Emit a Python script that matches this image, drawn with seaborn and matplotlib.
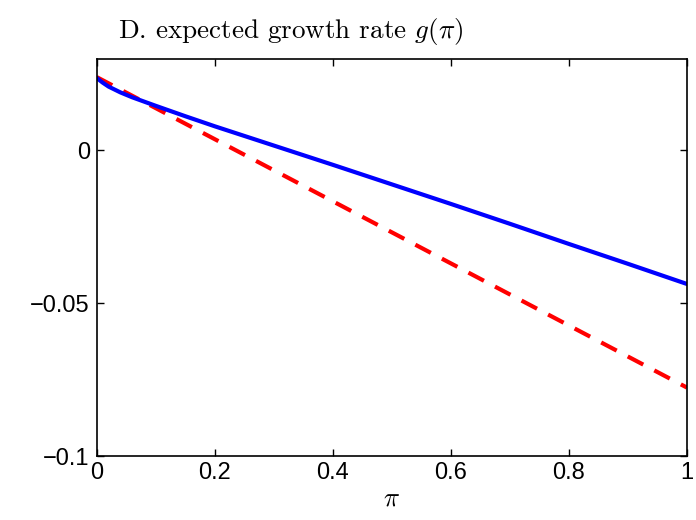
import numpy as np
import pandas as pd
import seaborn as sns
import matplotlib.pyplot as plt

# values
pi_blue = [0, 0.01, 0.02, 0.04, 0.06, 0.08, 0.1, 0.15, 0.2, 0.3, 0.4, 0.5, 0.6, 0.7, 0.8, 0.9, 1.0]
g_blue = [0.0237, 0.0222, 0.0209, 0.0190, 0.0174, 0.0160, 0.0146, 0.0112, 0.0079, 0.0016,
          -0.0047, -0.0111, -0.0175, -0.0240, -0.0306, -0.0371, -0.0437]
pi_red = [0, 1.0]
g_red = [0.0240, -0.0776]

xticks = [0, 0.2, 0.4, 0.6, 0.8, 1]
xticklabels = ['0', '0.2', '0.4', '0.6', '0.8', '1']
yticks = [-0.1, -0.05, 0]
yticklabels = ['\u22120.1', '\u22120.05', '0']

sns.set_theme(style='ticks')
plt.rcParams['font.family'] = ['Liberation Sans', 'DejaVu Sans']
plt.rcParams['mathtext.fontset'] = 'cm'
plt.rcParams['xtick.direction'] = 'in'
plt.rcParams['ytick.direction'] = 'in'
plt.rcParams['text.color'] = 'black'
plt.rcParams['axes.labelcolor'] = 'black'
plt.rcParams['xtick.color'] = 'black'
plt.rcParams['ytick.color'] = 'black'

df_blue = pd.DataFrame({'pi': pi_blue, 'g': g_blue})
df_red = pd.DataFrame({'pi': pi_red, 'g': g_red})

fig = plt.figure(figsize=(6.96, 5.2), dpi=100)
ax = fig.add_axes([0.139, 0.123, 0.848, 0.764])

sns.lineplot(data=df_red, x='pi', y='g', ax=ax, color='#ff0000', lw=3.0)
ax.lines[-1].set_dashes((4.2, 3.0))
sns.lineplot(data=df_blue, x='pi', y='g', ax=ax, color='#0000ff', lw=3.0)

ax.set_xlim(0, 1)
ax.set_ylim(-0.1, 0.03)
ax.set_xticks(xticks)
ax.set_xticklabels(xticklabels, fontsize=17)
ax.set_yticks(yticks)
ax.set_yticklabels(yticklabels, fontsize=17)
ax.tick_params(top=True, right=True, length=5, width=1, pad=4)
ax.tick_params(axis='y', pad=5)
for s in ax.spines.values():
    s.set_linewidth(1.2)
    s.set_color('black')

ax.set_xlabel(r'$\pi$', fontsize=19, labelpad=2)
ax.set_ylabel('')
ax.set_title(r'D. expected growth rate $g(\pi)$', fontsize=19.5, family='cmr10',
             x=0.329, pad=15)

plt.savefig('out.png', dpi=100)
